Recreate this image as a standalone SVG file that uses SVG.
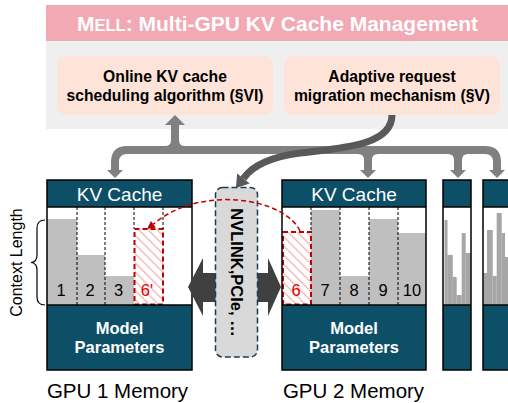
<svg xmlns="http://www.w3.org/2000/svg" width="508" height="403" viewBox="0 0 508 403">
<defs>
<style>
.t{font-family:"Liberation Sans",Arial,sans-serif}
.b{font-weight:bold}
.w{fill:#fff}
.teal{fill:#0d4f67}
.bar{fill:#bfbfbf}
.sbar{fill:#a6a6a6}
.div{stroke:#000;stroke-width:1;stroke-dasharray:3 2}
.frame{fill:none;stroke:#000;stroke-width:1.5}
.sep{stroke:#000;stroke-width:1.5}
.gc{fill:none;stroke:#808080;stroke-width:8}
.gf{fill:#808080}
.hatch{fill:url(#hp);stroke:#c00000;stroke-width:2;stroke-dasharray:5 3}
.num{font-size:16.5px;text-anchor:middle}
.red{fill:#e00000}
</style>
<pattern id="hp" width="6.5" height="6.5" patternUnits="userSpaceOnUse" patternTransform="rotate(-45)">
<rect width="6.5" height="6.5" fill="#fff"/>
<line x1="0" y1="0" x2="0" y2="6.5" stroke="#f2b3b3" stroke-width="2.6"/>
</pattern>
</defs>

<g id="header">
<rect x="46" y="5" width="462" height="124" fill="#efefef"/>
<rect x="46" y="5" width="462" height="36" fill="#f2a9b4"/>
<text class="t b w" x="77" y="31" font-size="21">M<tspan font-size="16.5">ELL</tspan>: Multi-GPU KV Cache Management</text>
</g>

<g id="sched">
<rect x="57" y="56" width="216" height="59" rx="9" fill="#fde3d8"/>
<text class="t b" x="165" y="82" font-size="15.7" text-anchor="middle">Online KV cache</text>
<text class="t b" x="165" y="101.3" font-size="15.7" text-anchor="middle">scheduling algorithm (§VI)</text>
</g>

<g id="migr">
<rect x="284" y="56" width="216" height="59" rx="9" fill="#fde3d8"/>
<text class="t b" x="392" y="82" font-size="15.7" text-anchor="middle">Adaptive request</text>
<text class="t b" x="392" y="101.3" font-size="15.7" text-anchor="middle">migration mechanism (§V)</text>
</g>

<g id="connectors">
<path class="gc" d="M115,170 L115,162 Q115,150 127,150 L485,150 Q497,150 497,162 L497,170"/>
<path class="gc" d="M175,150 L175,124"/>
<path class="gc" d="M368,150 L368,171"/>
<path class="gc" d="M458,150 L458,171"/>
<path class="gf" d="M165,146 Q171,146 171,140 L171,146 Z M185,146 Q179,146 179,140 L179,146 Z"/>
<path class="gf" d="M358,154 Q364,154 364,160 L364,154 Z M378,154 Q372,154 372,160 L372,154 Z"/>
<path class="gf" d="M448,154 Q454,154 454,160 L454,154 Z M468,154 Q462,154 462,160 L462,154 Z"/>
<polygon class="gf" points="165,125 185,125 175,115"/>
<polygon class="gf" points="107,170 123,170 115,178"/>
<polygon class="gf" points="360,170 376,170 368,178"/>
<polygon class="gf" points="450,170 466,170 458,178"/>
<polygon class="gf" points="489,170 505,170 497,178"/>
<path d="M392,115 C392,146 340,148 300,153 C270,157 252,166 243.4,178.5" fill="none" stroke="#595959" stroke-width="7"/>
<polygon points="236,188 249.7,183.4 237.1,173.6" fill="#595959"/>
</g>

<g id="gpu1">
<rect x="47" y="180" width="145" height="27" class="teal"/>
<rect x="47" y="207" width="145" height="98" fill="#fff"/>
<rect x="47" y="305" width="145" height="65" class="teal"/>
<rect x="47" y="219" width="30" height="86" class="bar"/>
<rect x="77" y="255" width="28" height="50" class="bar"/>
<rect x="105" y="276" width="29" height="29" class="bar"/>
<rect x="134.5" y="229" width="28.5" height="75.5" class="hatch"/>
<line class="div" x1="77" y1="207" x2="77" y2="305"/>
<line class="div" x1="105" y1="207" x2="105" y2="305"/>
<line class="div" x1="134" y1="207" x2="134" y2="229"/>
<line class="div" x1="163" y1="207" x2="163" y2="229"/>
<rect x="47" y="180" width="145" height="190" class="frame"/>
<line class="sep" x1="47" y1="207" x2="192" y2="207"/>
<line class="sep" x1="47" y1="305" x2="192" y2="305"/>
<text class="t w" x="119.5" y="201" font-size="19" text-anchor="middle">KV Cache</text>
<text class="t num" x="61" y="296">1</text>
<text class="t num" x="90" y="296">2</text>
<text class="t num" x="118.5" y="296">3</text>
<text class="t num red" x="147" y="296">6'</text>
<text class="t b w" x="119.5" y="334.3" font-size="16.5" text-anchor="middle">Model</text>
<text class="t b w" x="119.5" y="353.3" font-size="16.5" text-anchor="middle">Parameters</text>
<text class="t" x="117.5" y="398" font-size="20.5" text-anchor="middle">GPU 1 Memory</text>
</g>

<g id="ctxlen">
<path d="M45,220 Q37,220 37,228 L37,255 Q37,262 31,262.5 Q37,263 37,270 L37,297 Q37,305 45,305" fill="none" stroke="#000" stroke-width="1.2"/>
<text class="t" transform="translate(21.5,262.5) rotate(-90)" font-size="16" text-anchor="middle">Context Length</text>
</g>

<g id="gpu2">
<rect x="282" y="180" width="144" height="27" class="teal"/>
<rect x="282" y="207" width="144" height="98" fill="#fff"/>
<rect x="282" y="305" width="144" height="65" class="teal"/>
<rect x="311" y="210" width="29" height="95" class="bar"/>
<rect x="340" y="276" width="29" height="29" class="bar"/>
<rect x="369" y="219" width="29" height="86" class="bar"/>
<rect x="398" y="233" width="28" height="72" class="bar"/>
<rect x="283" y="232" width="28" height="72.5" class="hatch"/>
<line class="div" x1="311" y1="207" x2="311" y2="232"/>
<line class="div" x1="340" y1="207" x2="340" y2="305"/>
<line class="div" x1="369" y1="207" x2="369" y2="305"/>
<line class="div" x1="398" y1="207" x2="398" y2="305"/>
<rect x="282" y="180" width="144" height="190" class="frame"/>
<line class="sep" x1="282" y1="207" x2="426" y2="207"/>
<line class="sep" x1="282" y1="305" x2="426" y2="305"/>
<text class="t w" x="354" y="201" font-size="19" text-anchor="middle">KV Cache</text>
<text class="t num red" x="296" y="296">6</text>
<text class="t num" x="325" y="296">7</text>
<text class="t num" x="354" y="296">8</text>
<text class="t num" x="383" y="296">9</text>
<text class="t num" x="412" y="296">10</text>
<text class="t b w" x="354" y="334.3" font-size="16.5" text-anchor="middle">Model</text>
<text class="t b w" x="354" y="353.3" font-size="16.5" text-anchor="middle">Parameters</text>
<text class="t" x="353.5" y="398" font-size="20.5" text-anchor="middle">GPU 2 Memory</text>
</g>

<g id="gpu3">
<rect x="443" y="180" width="28" height="27" class="teal"/>
<rect x="443" y="207" width="28" height="98" fill="#fff"/>
<rect x="443" y="305" width="28" height="65" class="teal"/>
<rect x="444.5" y="220" width="3" height="85" class="sbar"/>
<rect x="447.3" y="255" width="5.5" height="50" class="sbar"/>
<rect x="452.7" y="277" width="4" height="28" class="sbar"/>
<rect x="456.7" y="295" width="5" height="10" class="sbar"/>
<rect x="461.7" y="233" width="4" height="72" class="sbar"/>
<rect x="465.7" y="253" width="5" height="52" class="sbar"/>
<rect x="443" y="180" width="28" height="190" class="frame"/>
<line class="sep" x1="443" y1="207" x2="471" y2="207"/>
<line class="sep" x1="443" y1="305" x2="471" y2="305"/>
</g>

<g id="gpu4">
<rect x="483" y="180" width="30" height="27" class="teal"/>
<rect x="483" y="207" width="30" height="98" fill="#fff"/>
<rect x="483" y="305" width="30" height="65" class="teal"/>
<rect x="483.5" y="273" width="3.5" height="32" class="sbar"/>
<rect x="487" y="230" width="5.7" height="75" class="sbar"/>
<rect x="492.7" y="276" width="4" height="29" class="sbar"/>
<rect x="496.7" y="213" width="5" height="92" class="sbar"/>
<rect x="501.7" y="233" width="3.3" height="72" class="sbar"/>
<rect x="505" y="257" width="3" height="48" class="sbar"/>
<rect x="483" y="180" width="30" height="190" class="frame"/>
<line class="sep" x1="483" y1="207" x2="513" y2="207"/>
<line class="sep" x1="483" y1="305" x2="513" y2="305"/>
</g>

<g id="link">
<polygon points="188,287 203,258 203,273 268,273 268,258 281,287 268,316 268,302 203,302 203,316" fill="#404040"/>
<rect x="215.5" y="187.5" width="42" height="169.5" rx="7" fill="#d9d9d9" stroke="#1d3d4f" stroke-width="1.5" stroke-dasharray="6 3"/>
<text class="t b" transform="translate(230.5,272.5) rotate(90)" font-size="16.5" text-anchor="middle">NVLINK,PCIe, …</text>
</g>

<g id="migration-arc">
<path d="M300,231 C285,198 200,184 153.4,224.2" fill="none" stroke="#c00000" stroke-width="1.5" stroke-dasharray="5 3"/>
<polygon points="147,229 155.8,227.4 151,221" fill="#c00000"/>
</g>
</svg>
